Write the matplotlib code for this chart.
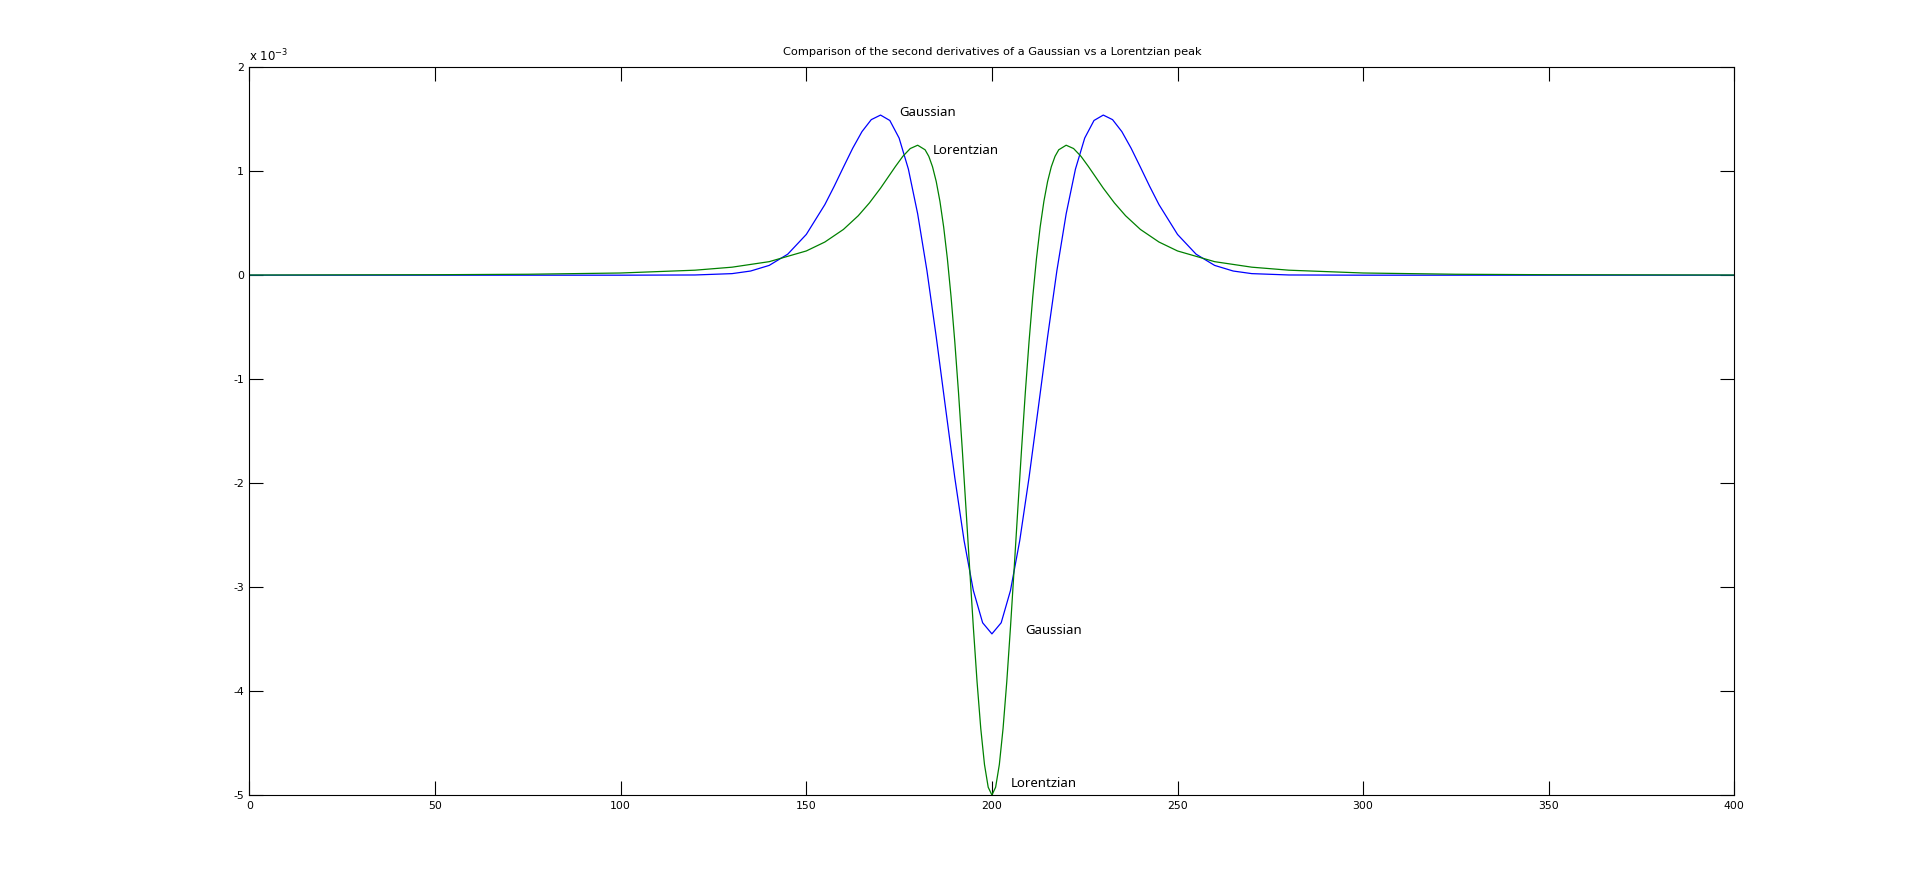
import matplotlib
matplotlib.use("Agg")
import matplotlib.pyplot as plt
from matplotlib.ticker import FuncFormatter

# Gaussian second derivative (values in units of 1e-3)
x_gauss = [0, 100, 120, 130, 135, 140, 145, 150, 155, 157.5, 160, 162.5, 165, 167.5,
           170, 172.5, 175, 177.5, 180, 182.5, 185, 187.5, 190, 192.5, 195, 197.5, 200,
           202.5, 205, 207.5, 210, 212.5, 215, 217.5, 220, 222.5, 225, 227.5, 230,
           232.5, 235, 237.5, 240, 242.5, 245, 250, 255, 260, 265, 270, 280, 300, 400]
y_gauss = [0, 0, 0.002, 0.015, 0.040, 0.094, 0.202, 0.392, 0.679, 0.854, 1.039, 1.221,
           1.381, 1.496, 1.540, 1.488, 1.319, 1.020, 0.590, 0.043, -0.593, -1.274,
           -1.947, -2.552, -3.033, -3.343, -3.450,
           -3.343, -3.033, -2.552, -1.947, -1.274, -0.593, 0.043, 0.590, 1.020, 1.319,
           1.488, 1.540, 1.496, 1.381, 1.221, 1.039, 0.854, 0.679, 0.392, 0.202, 0.094,
           0.040, 0.015, 0.002, 0, 0]

# Lorentzian second derivative (values in units of 1e-3)
x_lor = [0, 50, 75, 100, 120, 130, 140, 150, 155, 160, 164, 167, 170, 172, 174, 176,
         178, 180, 182, 183, 184, 185, 186, 187, 188, 189, 190, 191, 192, 193, 194,
         195, 196, 197, 198, 199, 200,
         201, 202, 203, 204, 205, 206, 207, 208, 209, 210, 211, 212, 213, 214, 215,
         216, 217, 218, 220, 222, 224, 226, 228, 230, 233, 236, 240, 245, 250, 260,
         270, 280, 300, 325, 350, 400]
y_lor = [0.0015, 0.0045, 0.009, 0.021, 0.048, 0.077, 0.130, 0.233, 0.319, 0.440,
         0.572, 0.695, 0.837, 0.941, 1.045, 1.143, 1.218, 1.250, 1.206, 1.143, 1.043,
         0.901, 0.710, 0.464, 0.159, -0.209, -0.640, -1.128, -1.666, -2.236, -2.818,
         -3.387, -3.912, -4.361, -4.707, -4.925, -5.000,
         -4.925, -4.707, -4.361, -3.912, -3.387, -2.818, -2.236, -1.666, -1.128,
         -0.640, -0.209, 0.159, 0.464, 0.710, 0.901, 1.043, 1.143, 1.206, 1.250,
         1.218, 1.143, 1.045, 0.941, 0.837, 0.695, 0.572, 0.440, 0.319, 0.233, 0.130,
         0.077, 0.048, 0.021, 0.009, 0.0045, 0.0015]

scale = 1e-3
title = "Comparison of the second derivatives of a Gaussian vs a Lorentzian peak"
x_ticks = [0, 50, 100, 150, 200, 250, 300, 350, 400]
y_ticks = [-5, -4, -3, -2, -1, 0, 1, 2]

# annotations: (x, y in 1e-3 units, text)
labels = [(175, 1.56, "Gaussian"), (184, 1.20, "Lorentzian"),
          (209, -3.42, "Gaussian"), (205, -4.89, "Lorentzian")]

fig = plt.figure(figsize=(19.16, 8.93), dpi=100)
ax = fig.add_axes([0.1302, 0.1097, 0.775, 0.815])

ax.plot(x_gauss, [v * scale for v in y_gauss], color=(0, 0, 1), lw=0.9)
ax.plot(x_lor, [v * scale for v in y_lor], color=(0, 0.5, 0), lw=0.9)

ax.set_xlim(0, 400)
ax.set_ylim(-5e-3, 2e-3)
ax.set_xticks(x_ticks)
ax.set_yticks([t * scale for t in y_ticks])
ax.yaxis.set_major_formatter(FuncFormatter(lambda v, p: "%g" % round(v / scale, 6)))

mfont = ["DejaVu Sans"]
for lab in ax.get_xticklabels() + ax.get_yticklabels():
    lab.set_fontfamily(mfont)
    lab.set_fontsize(7.8)

ax.tick_params(direction="in", length=10, width=0.8, top=True, right=True, pad=4)
for s in ax.spines.values():
    s.set_linewidth(0.8)

ax.text(0.0, 1.004, r"x 10$^{-3}$", transform=ax.transAxes, ha="left", va="bottom",
        fontsize=8.5, family=mfont)
ax.set_title(title, fontsize=8.2, family=mfont, pad=9)

for (lx, ly, t) in labels:
    ax.text(lx, ly * scale, t, ha="left", va="center", fontsize=9.5,
            family=["Noto Sans", "DejaVu Sans"])

fig.savefig("out.png", dpi=100, facecolor="white")
